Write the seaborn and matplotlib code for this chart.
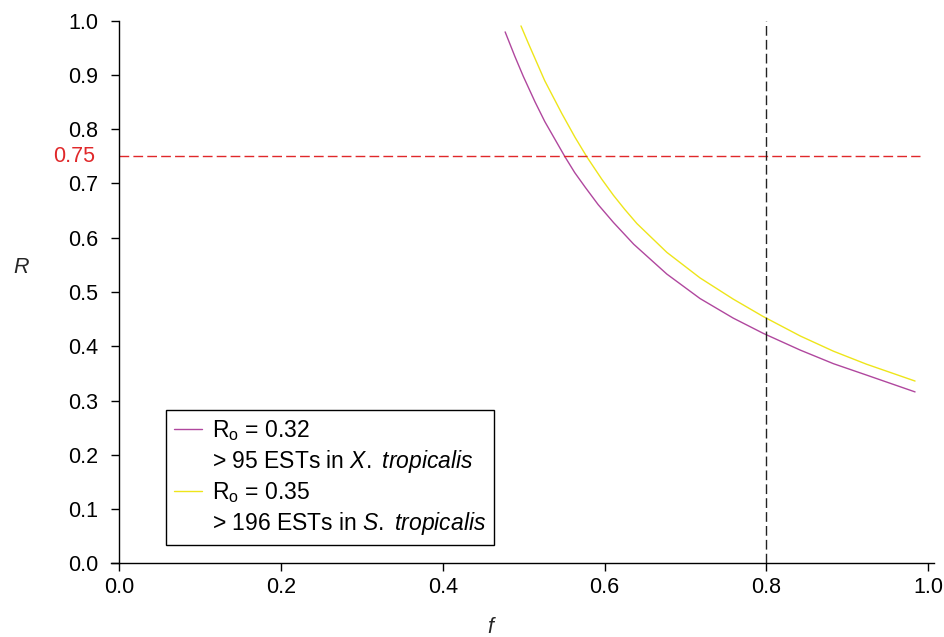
import numpy as np
import pandas as pd
import matplotlib
matplotlib.use("Agg")
import matplotlib.pyplot as plt
import matplotlib.transforms as mtransforms
from matplotlib.lines import Line2D
import seaborn as sns

# ---- data ----
purple_f = [0.477, 0.489, 0.4995, 0.514, 0.526, 0.551, 0.563, 0.576, 0.592, 0.611,
            0.636, 0.677, 0.718, 0.759, 0.796, 0.842, 0.883, 0.924, 0.953, 0.984]
purple_R = [0.979, 0.934, 0.897, 0.850, 0.814, 0.749, 0.720, 0.693, 0.661, 0.628,
            0.588, 0.533, 0.488, 0.452, 0.424, 0.393, 0.368, 0.347, 0.332, 0.316]
yellow_f = [0.4966, 0.5057, 0.526, 0.547, 0.5634, 0.578, 0.5964, 0.611, 0.625, 0.640,
            0.677, 0.718, 0.759, 0.796, 0.842, 0.883, 0.924, 0.984]
yellow_R = [0.990, 0.958, 0.889, 0.829, 0.785, 0.749, 0.708, 0.678, 0.652, 0.626,
            0.573, 0.526, 0.487, 0.455, 0.419, 0.391, 0.367, 0.336]
threshold_R = 0.75
threshold_f = 0.8
x_ticks = [0.0, 0.2, 0.4, 0.6, 0.8, 1.0]
y_ticks = [0.0, 0.1, 0.2, 0.3, 0.4, 0.5, 0.6, 0.7, 0.8, 0.9, 1.0]
legend_labels = [r"R$_{\mathrm{o}}$ = 0.32",
                 r"> 95 ESTs in $\mathit{X.}$ $\mathit{tropicalis}$",
                 r"R$_{\mathrm{o}}$ = 0.35",
                 r"> 196 ESTs in $\mathit{S.}$ $\mathit{tropicalis}$"]

PURPLE = "#b0479e"
YELLOW = "#eee51a"
RED = "#e0282a"
FS = 15.5
LFS = 16.5

sns.set_theme(style="ticks")
plt.rcParams['font.family'] = ['Liberation Sans', 'DejaVu Sans']
plt.rcParams['mathtext.fontset'] = 'custom'
plt.rcParams['mathtext.rm'] = 'Liberation Sans'
plt.rcParams['mathtext.it'] = 'Liberation Sans:italic'
plt.rcParams['text.color'] = 'black'
plt.rcParams['xtick.labelcolor'] = 'black'
plt.rcParams['ytick.labelcolor'] = 'black'

fig = plt.figure(figsize=(9.44, 6.37), dpi=100)
ax = fig.add_axes([0.1180, 0.1154, 0.8719, 0.8524])

df_p = pd.DataFrame({"f": purple_f, "R": purple_R})
df_y = pd.DataFrame({"f": yellow_f, "R": yellow_R})
sns.lineplot(data=df_p, x="f", y="R", ax=ax, color=PURPLE, lw=1.0, sort=False, estimator=None)
sns.lineplot(data=df_y, x="f", y="R", ax=ax, color=YELLOW, lw=1.0, sort=False, estimator=None)

ax.hlines(threshold_R, 0, 0.99, colors=RED, linestyles=(0, (7, 3)), lw=1.0)
ax.vlines(threshold_f, 0, 1.0, colors="#222222", linestyles=(0, (7, 3)), lw=1.0)

ax.set_xlim(-0.01, 1.008)
ax.set_ylim(0, 1.0)
ax.set_xticks(x_ticks)
ax.set_xticklabels([f"{v:.1f}" for v in x_ticks])
ax.set_yticks(y_ticks)
ax.set_yticklabels([f"{v:.1f}" for v in y_ticks])
ax.tick_params(axis="both", direction="out", length=6, width=1, labelsize=FS, color="black")
ax.tick_params(axis="y", pad=9.5)
ax.tick_params(axis="x", pad=3.5)

sns.despine(ax=ax)
ax.spines["left"].set_position(("data", 0))
ax.spines["left"].set_bounds(0, 1.0)
ax.spines["bottom"].set_bounds(-0.01, 1.008)
for s in ("left", "bottom"):
    ax.spines[s].set_color("black")
    ax.spines[s].set_linewidth(1.0)

ax.set_xlabel("f", style="italic", fontsize=FS, va="center", ha="center")
ax.set_ylabel("R", style="italic", fontsize=FS, rotation=0, va="center", ha="center")
ax.xaxis.set_label_coords(0.460, -0.117)
ax.yaxis.set_label_coords(-0.110, 0.545)

trans = mtransforms.blended_transform_factory(ax.transAxes, ax.transData)
ax.text(-0.020, threshold_R, "0.75", color=RED, fontsize=FS, ha="right", va="center",
        transform=trans)

handles = [Line2D([], [], color=PURPLE, lw=1.0),
           Line2D([], [], color="none"),
           Line2D([], [], color=YELLOW, lw=1.0),
           Line2D([], [], color="none")]
leg = ax.legend(handles, legend_labels, loc="lower left", bbox_to_anchor=(0.0667, 0.034),
                borderaxespad=0, frameon=True, fancybox=False, framealpha=1,
                edgecolor="black", fontsize=LFS, handlelength=1.2, handletextpad=0.45,
                labelspacing=0.22, borderpad=0.35)
leg.get_frame().set_linewidth(1.0)

fig.savefig("out.png", dpi=100)
